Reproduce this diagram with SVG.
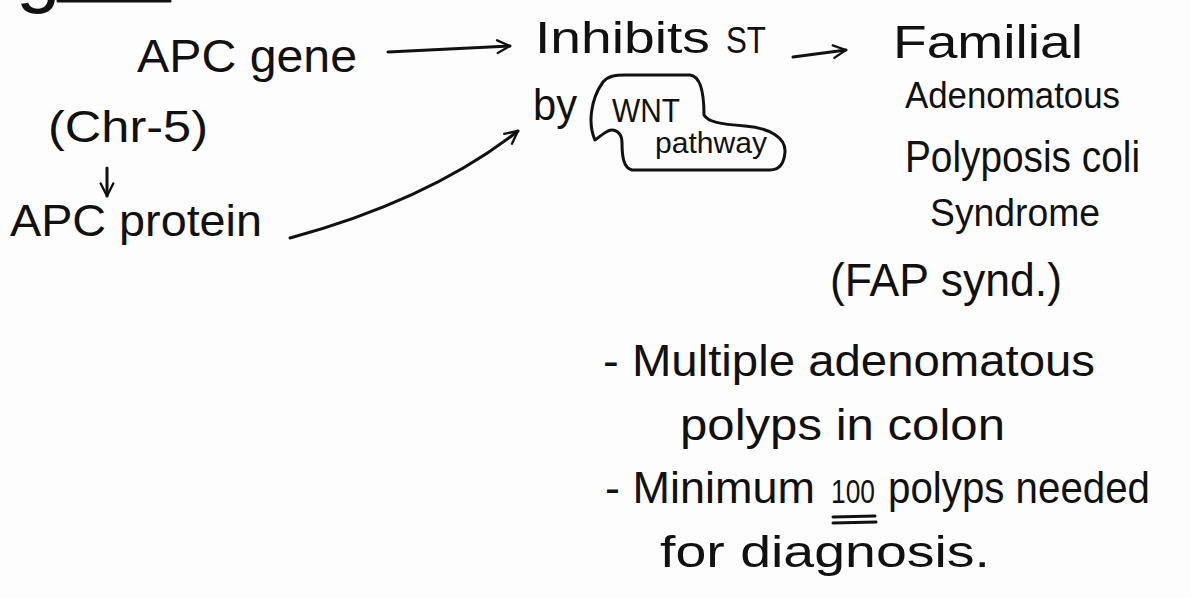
<svg xmlns="http://www.w3.org/2000/svg" width="1191" height="598" viewBox="0 0 1191 598">
  <defs>
    <style>
      .t { font-family: "Liberation Sans", Arial, sans-serif; fill: #111; }
      .ink { fill: none; stroke: #111; stroke-width: 3; stroke-linecap: round; stroke-linejoin: round; }
    </style>
    <marker id="head" viewBox="0 0 20 20" refX="18" refY="10" markerWidth="18" markerHeight="18" markerUnits="userSpaceOnUse" orient="auto">
      <path d="M4,3 L18,10 L4,17" fill="none" stroke="#111" stroke-width="2.6" stroke-linecap="round" stroke-linejoin="round"/>
    </marker>
  </defs>

  <rect width="1191" height="598" fill="#fdfdfd"/>

  <!-- heading fragment at the top edge: only the descender and underline remain on the page -->
  <g id="heading">
    <text class="t" x="16" y="-3" font-size="80">g</text>
    <line class="ink" x1="58" y1="1" x2="170" y2="1"/>
  </g>

  <g id="apc-gene">
    <text class="t" x="137" y="72" font-size="46" textLength="220" lengthAdjust="spacingAndGlyphs">APC gene</text>
  </g>

  <g id="chromosome">
    <text class="t" x="48" y="142" font-size="44" textLength="160" lengthAdjust="spacingAndGlyphs">(Chr-5)</text>
  </g>

  <g id="apc-protein">
    <text class="t" x="10" y="236" font-size="44" textLength="252" lengthAdjust="spacingAndGlyphs">APC protein</text>
  </g>

  <g id="inhibits">
    <text class="t" y="53" font-size="44">
      <tspan x="535" textLength="175" lengthAdjust="spacingAndGlyphs">Inhibits</tspan>
      <tspan x="726" font-size="36" textLength="40" lengthAdjust="spacingAndGlyphs">ST</tspan>
    </text>
    <text class="t" x="533" y="120" font-size="44" textLength="44" lengthAdjust="spacingAndGlyphs">by</text>
  </g>

  <!-- WNT pathway in its bubble -->
  <g id="wnt">
    <path class="ink" d="M595,140 C588,125 590,100 603,82 C608,76 615,75 625,75 L690,75 C700,76 704,90 704,115 C708,122 720,124 745,126 C770,128 786,138 785,152 C784,165 778,170 770,170 L632,170 C623,168 622,155 622,142 C622,133 615,128 608,131 C602,134 598,138 595,140 Z"/>
    <text class="t" x="612" y="122" font-size="34" textLength="68" lengthAdjust="spacingAndGlyphs">WNT</text>
    <text class="t" x="655" y="153" font-size="30" textLength="112" lengthAdjust="spacingAndGlyphs">pathway</text>
  </g>

  <g id="fap">
    <text class="t" x="893" y="58" font-size="46" textLength="190" lengthAdjust="spacingAndGlyphs">Familial</text>
    <text class="t" x="905" y="108" font-size="36" textLength="215" lengthAdjust="spacingAndGlyphs">Adenomatous</text>
    <text class="t" x="905" y="172" font-size="44" textLength="235" lengthAdjust="spacingAndGlyphs">Polyposis coli</text>
    <text class="t" x="930" y="226" font-size="38" textLength="170" lengthAdjust="spacingAndGlyphs">Syndrome</text>
    <text class="t" x="830" y="296" font-size="46" textLength="232" lengthAdjust="spacingAndGlyphs">(FAP synd.)</text>
  </g>

  <g id="notes">
    <text class="t" x="603" y="376" font-size="44" textLength="492" lengthAdjust="spacingAndGlyphs">- Multiple adenomatous</text>
    <text class="t" x="680" y="440" font-size="44" textLength="325" lengthAdjust="spacingAndGlyphs">polyps in colon</text>
    <text class="t" y="503" font-size="44">
      <tspan x="605" textLength="210" lengthAdjust="spacingAndGlyphs">- Minimum</tspan>
      <tspan x="831" font-size="34" textLength="44" lengthAdjust="spacingAndGlyphs">100</tspan>
      <tspan x="888" textLength="262" lengthAdjust="spacingAndGlyphs">polyps needed</tspan>
    </text>
    <line class="ink" x1="833" y1="517" x2="875" y2="516"/>
    <line class="ink" x1="833" y1="523" x2="876" y2="522"/>
    <text class="t" x="660" y="567" font-size="44" textLength="330" lengthAdjust="spacingAndGlyphs">for diagnosis.</text>
  </g>

  <g id="connectors">
    <path class="ink" d="M388,52 L510,46" marker-end="url(#head)"/>
    <path class="ink" d="M793,57 L846,50" marker-end="url(#head)"/>
    <path class="ink" d="M107,168 L107,196" marker-end="url(#head)"/>
    <path class="ink" d="M290,238 Q430,200 518,131" marker-end="url(#head)"/>
  </g>
</svg>
